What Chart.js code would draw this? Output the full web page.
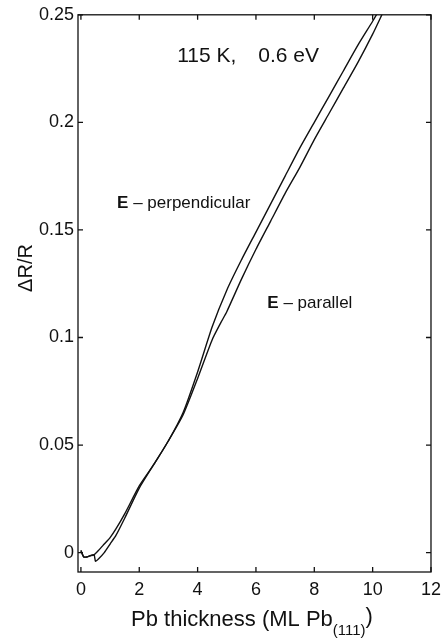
<!DOCTYPE html>
<html>
<head>
<meta charset="utf-8">
<script src="https://cdn.jsdelivr.net/npm/chart.js@4"></script>
<style>
  html, body { margin: 0; padding: 0; background: #fff; }
  #wrap { width: 448px; height: 640px; }
</style>
</head>
<body>
<div id="wrap"><canvas id="myChart" width="448" height="640"></canvas></div>
<script>
const FONT = "'Liberation Sans', Arial, Helvetica, sans-serif";

// E - perpendicular
const perpX = [0, 0.1, 0.2, 0.3, 0.45, 0.6, 0.8, 1.0, 1.2, 1.5, 2.0, 2.5, 3.0, 3.5, 4.0, 4.5, 5.0, 5.5, 6.0, 6.5, 7.0, 7.5, 8.0, 8.5, 9.0, 9.5, 10.0, 10.3];
const perpY = [0.001, -0.002, -0.002, -0.0015, -0.001, 0.001, 0.004, 0.007, 0.011, 0.018, 0.031, 0.041, 0.052, 0.065, 0.084, 0.105, 0.122, 0.136, 0.149, 0.162, 0.175, 0.188, 0.200, 0.212, 0.224, 0.236, 0.247, 0.254];

// E - parallel
const parX = [0, 0.1, 0.2, 0.3, 0.45, 0.5, 0.6, 0.8, 1.0, 1.2, 1.5, 2.0, 2.5, 3.0, 3.5, 4.0, 4.5, 4.8, 5.0, 5.5, 6.0, 6.5, 7.0, 7.5, 8.0, 8.5, 9.0, 9.5, 10.0, 10.35];
const parY = [0.001, -0.002, -0.002, -0.0015, -0.001, -0.004, -0.003, 0.000, 0.004, 0.008, 0.016, 0.030, 0.041, 0.052, 0.064, 0.081, 0.099, 0.107, 0.112, 0.127, 0.141, 0.154, 0.167, 0.179, 0.192, 0.204, 0.216, 0.228, 0.241, 0.251];

const xTicks = [0, 2, 4, 6, 8, 10, 12];
const yTicks = [0, 0.05, 0.1, 0.15, 0.2, 0.25];

const toPts = (xs, ys) => xs.map((x, i) => ({ x: x, y: ys[i] }));

// box, inward ticks, annotations and the axis titles
const frame = {
  id: "frame",
  afterDraw(chart) {
    const c = chart.ctx;
    const a = chart.chartArea;
    const xs = chart.scales.x, ys = chart.scales.y;
    c.save();
    c.strokeStyle = "#111";
    c.lineWidth = 1.3;
    c.strokeRect(a.left, a.top, a.right - a.left, a.bottom - a.top);
    c.beginPath();
    xTicks.forEach(v => {
      const px = xs.getPixelForValue(v);
      c.moveTo(px, a.bottom); c.lineTo(px, a.bottom - 5);
      c.moveTo(px, a.top); c.lineTo(px, a.top + 5);
    });
    yTicks.forEach(v => {
      const py = ys.getPixelForValue(v);
      c.moveTo(a.left, py); c.lineTo(a.left + 5, py);
      c.moveTo(a.right, py); c.lineTo(a.right - 5, py);
    });
    c.stroke();

    c.fillStyle = "#111";
    c.textBaseline = "middle";
    c.textAlign = "left";
    c.font = "21px " + FONT;
    c.fillText("115 K,", xs.getPixelForValue(3.3), ys.getPixelForValue(0.2306));
    c.fillText("0.6 eV", xs.getPixelForValue(6.08), ys.getPixelForValue(0.2306));

    const label = (txt, x, y) => {
      let px = xs.getPixelForValue(x);
      const py = ys.getPixelForValue(y);
      c.font = "bold 17px " + FONT;
      c.fillText("E", px, py);
      px += c.measureText("E").width;
      c.font = "17px " + FONT;
      c.fillText(" \u2013 " + txt, px, py);
    };
    label("perpendicular", 1.24, 0.1625);
    label("parallel", 6.39, 0.116);

    // x axis title with subscript
    c.font = "22px " + FONT;
    const t1 = "Pb thickness (ML Pb", sub = "(111)", t3 = ")";
    const w1 = c.measureText(t1).width, w3 = c.measureText(t3).width;
    c.font = "15px " + FONT;
    const w2 = c.measureText(sub).width;
    const x0 = 252 - (w1 + w2 + w3) / 2;
    c.font = "22px " + FONT;
    c.fillText(t1, x0, 620);
    c.font = "15px " + FONT;
    c.fillText(sub, x0 + w1, 631);
    c.font = "22px " + FONT;
    c.fillText(t3, x0 + w1 + w2, 617);

    // y axis title
    c.translate(26, 268);
    c.rotate(-Math.PI / 2);
    c.textAlign = "center";
    c.font = "20px " + FONT;
    c.fillText("\u0394R/R", 0, 0);
    c.restore();
  }
};

const data = {
  datasets: [{
    label: "E - perpendicular",
    data: toPts(perpX, perpY),
    borderColor: "#111",
    borderWidth: 1.4,
    pointRadius: 0,
    tension: 0.2,
    fill: false,
  }, {
    label: "E - parallel",
    data: toPts(parX, parY),
    borderColor: "#111",
    borderWidth: 1.4,
    pointRadius: 0,
    tension: 0.2,
    fill: false,
  }],
};

const config = {
  type: "line",
  data: data,
  options: {
    responsive: false,
    animation: false,
    layout: { autoPadding: false, padding: { top: 13, right: 17, left: 0, bottom: 0 } },
    plugins: { legend: { display: false }, tooltip: { enabled: false } },
    scales: {
      x: {
        type: "linear",
        min: -0.1,
        max: 12,
        afterBuildTicks: s => { s.ticks = xTicks.map(v => ({ value: v })); },
        afterFit: s => { s.height = 68; },
        grid: { display: false, drawTicks: false },
        border: { display: false },
        ticks: { color: "#111", font: { family: FONT, size: 18 }, padding: 7, maxRotation: 0 },
      },
      y: {
        type: "linear",
        min: -0.009,
        max: 0.25,
        afterBuildTicks: s => { s.ticks = yTicks.map(v => ({ value: v })); },
        afterFit: s => { s.width = 78; },
        grid: { display: false, drawTicks: false },
        border: { display: false },
        ticks: { color: "#111", font: { family: FONT, size: 18 }, padding: 4, callback: v => String(v) },
      },
    },
  },
  plugins: [frame],
};

const myChart = new Chart(document.getElementById("myChart").getContext("2d"), config);
</script>
</body>
</html>
